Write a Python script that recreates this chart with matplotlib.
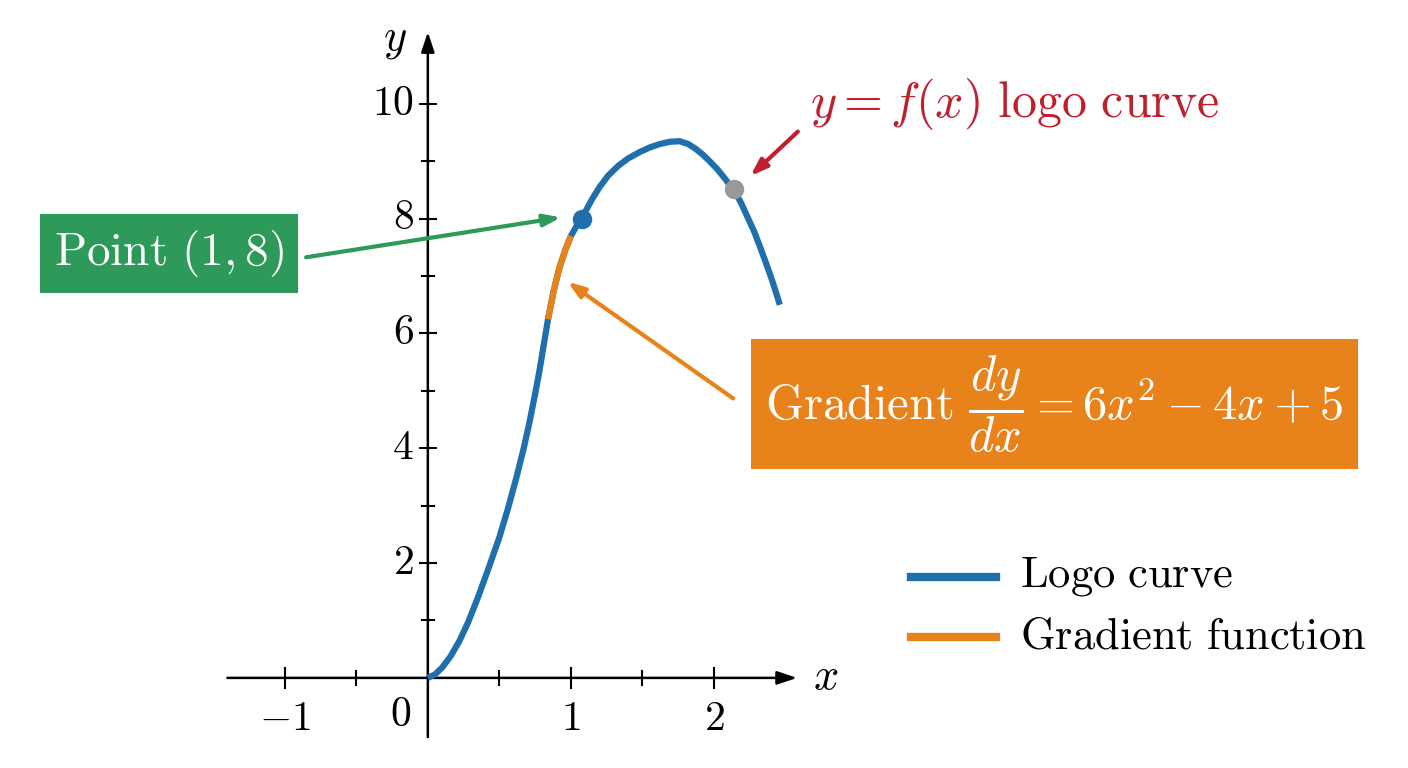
import matplotlib
matplotlib.use("Agg")
import matplotlib.pyplot as plt

plt.rcParams['mathtext.fontset'] = 'cm'
plt.rcParams['font.family'] = ['cmr10', 'DejaVu Serif']

curve_x = [0.0, 0.05, 0.1, 0.16, 0.22, 0.28, 0.35, 0.42, 0.5, 0.56, 0.62, 0.67, 0.71, 0.75, 0.78, 0.81, 0.84, 0.88, 0.92, 0.96, 1.0, 1.05, 1.1, 1.15, 1.2, 1.26, 1.33, 1.4, 1.48, 1.55, 1.62, 1.69, 1.76, 1.82, 1.87, 1.92, 1.97, 2.02, 2.06, 2.1, 2.14, 2.19, 2.23, 2.28, 2.32, 2.36, 2.4, 2.43, 2.46]
curve_y = [0.0, 0.06, 0.18, 0.38, 0.64, 0.96, 1.4, 1.88, 2.45, 2.95, 3.5, 4.0, 4.45, 4.95, 5.35, 5.8, 6.25, 6.75, 7.15, 7.45, 7.7, 7.92, 8.12, 8.35, 8.55, 8.75, 8.92, 9.05, 9.16, 9.24, 9.3, 9.34, 9.35, 9.3, 9.22, 9.12, 9.0, 8.87, 8.75, 8.62, 8.5, 8.27, 8.05, 7.78, 7.52, 7.25, 6.97, 6.74, 6.5]
grad_x = [0.84, 0.88, 0.92, 0.96, 1.0]
grad_y = [6.25, 6.75, 7.15, 7.45, 7.7]
point_blue = (1.08, 8.0)
point_gray = (2.14, 8.52)
x_ticks = [-1, 1, 2]
y_ticks = [2, 4, 6, 8, 10]

blue = '#1f6fad'; orange = '#e8821a'; green = '#2e9a5a'; red = '#c0202e'

fig = plt.figure(figsize=(14.08, 7.68), dpi=100)
ax = fig.add_axes([0, 0, 1, 1])
ax.set_xlim(-2.99, 6.85)
ax.set_ylim(-1.57, 11.81)
ax.axis('off')

ah = '-|>,head_length=1.2,head_width=0.4'
ax.annotate('', xy=(2.6, 0), xytext=(-1.42, 0),
            arrowprops=dict(arrowstyle=ah, color='black', lw=1.8))
ax.annotate('', xy=(0, 11.3), xytext=(0, -1.08),
            arrowprops=dict(arrowstyle=ah, color='black', lw=1.8))
for t in [-1, -0.5, 0.5, 1, 1.5, 2]:
    h = 0.17 if t in x_ticks else 0.12
    ax.plot([t, t], [-h, h], color='black', lw=1.5)
for t in range(1, 11):
    h = 0.055 if t in y_ticks else 0.04
    ax.plot([-h, h], [t, t], color='black', lw=1.5)
for t in x_ticks:
    ax.text(t, -0.72, r'$%d$' % t, ha='center', va='center', fontsize=30)
for t in y_ticks:
    ax.text(-0.1, t, r'$%d$' % t, ha='right', va='center', fontsize=30)
ax.text(-0.19, -0.65, r'$0$', ha='center', va='center', fontsize=30)
ax.text(2.78, 0.0, r'$x$', ha='center', va='center', fontsize=32)
ax.text(-0.23, 11.1, r'$y$', ha='center', va='center', fontsize=32)

ax.plot(curve_x, curve_y, color=blue, lw=4.5, solid_capstyle='butt', zorder=3)
ax.plot(grad_x, grad_y, color=orange, lw=4.5, solid_capstyle='butt', zorder=4)
ax.plot(*point_blue, 'o', color=blue, ms=13, zorder=5)
ax.plot(*point_gray, 'o', color='#999999', ms=13, zorder=5)

aa = '-|>,head_length=1.0,head_width=0.35'
ax.annotate('', xy=(0.95, 8.03), xytext=(-0.87, 7.32),
            arrowprops=dict(arrowstyle=aa, color=green, lw=3))
ax.text(-1.81, 7.39, r'$\mathrm{Point}\ (1,8)$', ha='center', va='center', fontsize=34, color='white',
        bbox=dict(boxstyle='square,pad=0.3', fc=green, ec='none'))
ax.annotate('', xy=(0.96, 6.93), xytext=(2.15, 4.84),
            arrowprops=dict(arrowstyle=aa, color=orange, lw=3))
ax.text(4.38, 4.77, r'$\mathrm{Gradient}\ \dfrac{dy}{dx} = 6x^2 - 4x + 5$', ha='center', va='center',
        fontsize=35, color='white', bbox=dict(boxstyle='square,pad=0.3', fc=orange, ec='none'))
ax.annotate('', xy=(2.24, 8.71), xytext=(2.6, 9.55),
            arrowprops=dict(arrowstyle=aa, color=red, lw=3))
ax.text(2.67, 10.0, r'$y = f(x)\ \mathrm{logo\ curve}$', ha='left', va='center', fontsize=36, color=red)

ax.plot([3.38, 3.97], [1.76, 1.76], color=blue, lw=6)
ax.plot([3.38, 3.97], [0.71, 0.71], color=orange, lw=6)
ax.text(4.14, 1.76, r'$\mathrm{Logo\ curve}$', ha='left', va='center', fontsize=32)
ax.text(4.14, 0.71, r'$\mathrm{Gradient\ function}$', ha='left', va='center', fontsize=32)

fig.savefig('out.png', dpi=100)
